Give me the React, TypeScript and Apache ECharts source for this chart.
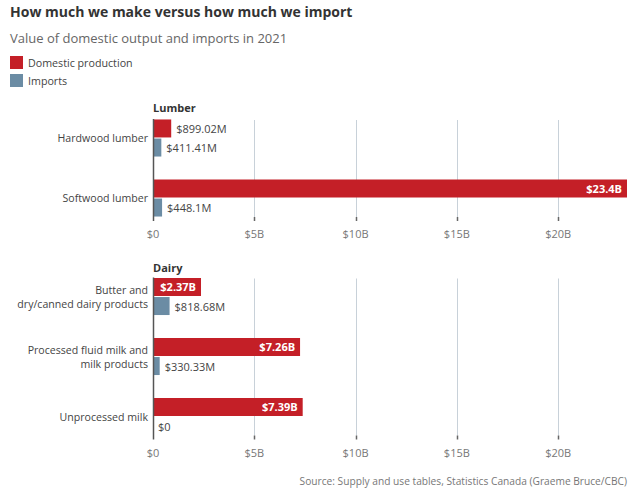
import React, { useEffect, useRef } from 'react';
import * as echarts from 'echarts';

const FONT = '"Open Sans", "Noto Sans", sans-serif';

const lumberCategories = ['Hardwood lumber', 'Softwood lumber'];
const lumberDomestic = [899.02, 23400]; // millions of dollars
const lumberImports = [411.41, 448.1];

const dairyCategories = [
  'Butter and\ndry/canned dairy products',
  'Processed fluid milk and\nmilk products',
  'Unprocessed milk',
];
const dairyDomestic = [2370, 7260, 7390];
const dairyImports = [818.68, 330.33, 0];

const tickValues = [0, 5000, 10000, 15000, 20000];
const tickLabels = ['$0', '$5B', '$10B', '$15B', '$20B'];
const axisMax = 23400;

const RED = '#c41f27';
const BLUE = '#6b8ca4';

const fmt = (v: number) => {
  if (v === 0) return '$0';
  if (v >= 1000) return '$' + String(+(v / 1000).toFixed(2)) + 'B';
  return '$' + String(+v.toFixed(2)) + 'M';
};

const makeData = (vals: number[]) =>
  vals.map((v) => {
    const inside = v >= 2000;
    return {
      value: v,
      label: inside
        ? { position: 'insideRight', distance: 5, color: '#fff', fontWeight: 'bold' }
        : { position: 'right', distance: 5, color: '#444', fontWeight: 'normal' },
    };
  });

const barCommon = {
  type: 'bar',
  barWidth: 18,
  barGap: '6%',
  label: {
    show: true,
    fontFamily: FONT,
    fontSize: 11,
    formatter: (p: any) => fmt(p.value),
  },
};

export default function App() {
  const ref = useRef<HTMLDivElement>(null);
  useEffect(() => {
    const chart = echarts.init(ref.current!, null, { renderer: 'svg' });
    const xAxisBase = (gridIndex: number) => ({
      type: 'value',
      gridIndex,
      min: 0,
      max: axisMax,
      interval: 5000,
      axisLine: { show: false },
      axisTick: { show: false },
      splitLine: { show: false },
      axisLabel: {
        margin: 0,
        color: '#777',
        fontFamily: FONT,
        fontSize: 11,
        formatter: (v: number) => tickLabels[tickValues.indexOf(v)] ?? '',
        showMaxLabel: false,
      },
    });
    const yAxisBase = (gridIndex: number, data: string[]) => ({
      type: 'category',
      gridIndex,
      inverse: true,
      data,
      axisLine: { show: false },
      axisTick: { show: false },
      axisLabel: {
        margin: 5,
        color: '#444',
        fontFamily: FONT,
        fontSize: 10.6,
        lineHeight: 14,
        align: 'right',
      },
    });
    const option: any = {
      animation: false,
      backgroundColor: '#fff',
      title: [
        {
          text: 'How much we make versus how much we import',
          left: 10,
          top: 4,
          padding: 0,
          textStyle: { fontFamily: FONT, fontSize: 14, fontWeight: 'bold', color: '#333' },
        },
        {
          text: 'Value of domestic output and imports in 2021',
          left: 10,
          top: 31,
          padding: 0,
          textStyle: { fontFamily: FONT, fontSize: 13, fontWeight: 'normal', color: '#666' },
        },
        {
          text: 'Lumber',
          left: 153,
          top: 102,
          padding: 0,
          textStyle: { fontFamily: FONT, fontSize: 11, fontWeight: 'bold', color: '#333' },
        },
        {
          text: 'Dairy',
          left: 153,
          top: 262,
          padding: 0,
          textStyle: { fontFamily: FONT, fontSize: 11, fontWeight: 'bold', color: '#333' },
        },
        {
          text: 'Source: Supply and use tables, Statistics Canada (Graeme Bruce/CBC)',
          right: 13,
          top: 476,
          padding: 0,
          textStyle: { fontFamily: FONT, fontSize: 10.2, fontWeight: 'normal', color: '#777' },
        },
      ],
      legend: {
        orient: 'vertical',
        left: 10,
        top: 56,
        padding: 0,
        itemWidth: 13,
        itemHeight: 13,
        itemGap: 5,
        icon: 'rect',
        data: ['Domestic production', 'Imports'],
        textStyle: { fontFamily: FONT, fontSize: 10.7, color: '#444' },
        selectedMode: false,
      },
      grid: [
        { left: 153, right: 13, top: 108, height: 120 },
        { left: 153, right: 13, top: 266.5, height: 180 },
      ],
      xAxis: [xAxisBase(0), xAxisBase(1)],
      yAxis: [yAxisBase(0, lumberCategories), yAxisBase(1, dairyCategories)],
      series: [
        { ...barCommon, name: 'Domestic production', xAxisIndex: 0, yAxisIndex: 0, itemStyle: { color: RED }, data: makeData(lumberDomestic) },
        { ...barCommon, name: 'Imports', xAxisIndex: 0, yAxisIndex: 0, itemStyle: { color: BLUE }, data: makeData(lumberImports) },
        { ...barCommon, name: 'Domestic production', xAxisIndex: 1, yAxisIndex: 1, itemStyle: { color: RED }, data: makeData(dairyDomestic) },
        { ...barCommon, name: 'Imports', xAxisIndex: 1, yAxisIndex: 1, itemStyle: { color: BLUE }, data: makeData(dairyImports) },
      ],
    };
    chart.setOption(option);

    const gfx: any[] = [];
    const groups: [number, string[]][] = [
      [0, lumberCategories],
      [1, dairyCategories],
    ];
    groups.forEach(([g, cats]) => {
      const yTop = (chart.convertToPixel({ yAxisIndex: g } as any, cats[0]) as number) - 18;
      const yBot = (chart.convertToPixel({ yAxisIndex: g } as any, cats[cats.length - 1]) as number) + 19;
      tickValues.forEach((v) => {
        const x = Math.round(chart.convertToPixel({ xAxisIndex: g } as any, v) as number) + 0.5;
        if (v === 0) {
          gfx.push({
            type: 'line',
            z: 10,
            shape: { x1: x, y1: yTop - 1, x2: x, y2: yBot + 4 },
            style: { stroke: '#555', lineWidth: 1.5 },
          });
        } else {
          gfx.push({
            type: 'line',
            z: 0,
            shape: { x1: x, y1: yTop, x2: x, y2: yBot },
            style: { stroke: '#c8d1d9', lineWidth: 1 },
          });
          gfx.push({
            type: 'line',
            z: 0,
            shape: { x1: x, y1: yBot, x2: x, y2: yBot + 4 },
            style: { stroke: '#666', lineWidth: 1.5 },
          });
        }
      });
    });
    chart.setOption({ graphic: gfx });

    return () => chart.dispose();
  }, []);
  return (
    <div
      ref={ref}
      style={{ position: 'fixed', left: 0, top: 0, width: 640, height: 496 }}
    />
  );
}
